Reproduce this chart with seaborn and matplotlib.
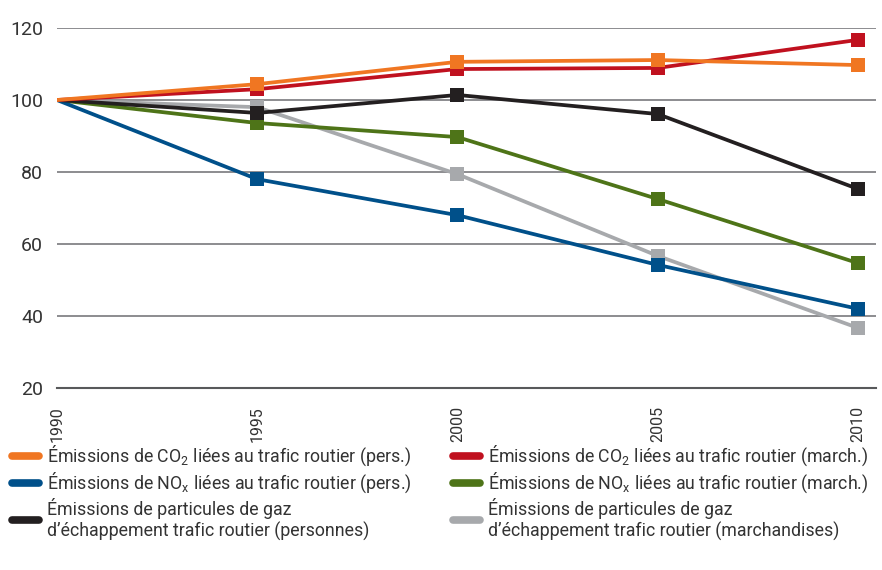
import pandas as pd
import numpy as np
import matplotlib.pyplot as plt
import seaborn as sns
from matplotlib.lines import Line2D

# ==========================================================
# DATA
# ==========================================================

years = [1990, 1995, 2000, 2005, 2010]

co2_pers = [100, 104.4, 110.6, 111.1, 109.7]
co2_march = [100, 103.0, 108.6, 108.9, 116.7]
nox_pers = [100, 78.0, 68.0, 54.2, 42.0]
nox_march = [100, 93.6, 89.7, 72.5, 54.7]
part_pers = [100, 96.4, 101.4, 96.1, 75.3]
part_march = [100, 98.0, 79.4, 56.7, 36.7]

labels = [
    "Émissions de CO$_2$ liées au trafic routier (pers.)",
    "Émissions de NO$_x$ liées au trafic routier (pers.)",
    "Émissions de particules de gaz\nd’échappement trafic routier (personnes)",
    "Émissions de CO$_2$ liées au trafic routier (march.)",
    "Émissions de NO$_x$ liées au trafic routier (march.)",
    "Émissions de particules de gaz\nd’échappement trafic routier (marchandises)",
]
series = [co2_pers, nox_pers, part_pers, co2_march, nox_march, part_march]
colors = ["#F07622", "#00508A", "#231F20", "#C0111F", "#4E7418", "#A7A9AC"]

# draw order (back to front)
draw_order = [5, 4, 1, 2, 3, 0]

# ==========================================================
# STYLE
# ==========================================================

sns.set_style("white")
plt.rcParams["font.family"] = ["Roboto", "DejaVu Sans"]
plt.rcParams["mathtext.fontset"] = "custom"
plt.rcParams["mathtext.rm"] = "Roboto"
plt.rcParams["mathtext.it"] = "Roboto"

fig = plt.figure(figsize=(8.82, 5.70), dpi=100)
ax = fig.add_axes([0.0646, 0.3193, 0.9285, 0.6316])

# ==========================================================
# LINES
# ==========================================================

for i in draw_order:
    df = pd.DataFrame({"year": years, "value": series[i]})
    sns.lineplot(
        data=df, x="year", y="value", ax=ax,
        color=colors[i], linewidth=2.7,
        marker="s", markersize=9.5, markeredgewidth=0,
        markevery=[1, 2, 3, 4], legend=False,
    )

# ==========================================================
# AXES
# ==========================================================

ax.set_xlim(1990, 2010.45)
ax.set_ylim(20, 120)
ax.set_yticks(np.arange(20, 121, 20))
ax.set_xticks(years)
ax.set_xticklabels([str(y) for y in years], rotation=90)
ax.set_xlabel("")
ax.set_ylabel("")

ax.yaxis.grid(True, color="#6d6e71", linewidth=1.1)
ax.set_axisbelow(True)
for s in ["top", "right", "left"]:
    ax.spines[s].set_visible(False)
ax.spines["bottom"].set_color("#58595b")
ax.spines["bottom"].set_linewidth(1.5)

ax.tick_params(axis="y", length=0, pad=10, labelsize=14, labelcolor="#333333")
ax.tick_params(axis="x", length=10, width=1.1, color="#58595b", pad=3,
               labelsize=11.5, labelcolor="#333333", direction="out")

# ==========================================================
# LEGEND (two columns as two legends)
# ==========================================================

handles = [Line2D([0], [0], color=c, linewidth=5.5, solid_capstyle="round")
           for c in colors]
leg_kw = dict(loc="upper left", frameon=False, fontsize=12.8,
              handlelength=1.5, handletextpad=0.45, labelspacing=0.15,
              labelcolor="#333333")
fig.legend(handles[:3], labels[:3], bbox_to_anchor=(-0.004, 0.25), **leg_kw)
fig.legend(handles[3:], labels[3:], bbox_to_anchor=(0.496, 0.25), **leg_kw)

fig.savefig("out.png", dpi=100)
